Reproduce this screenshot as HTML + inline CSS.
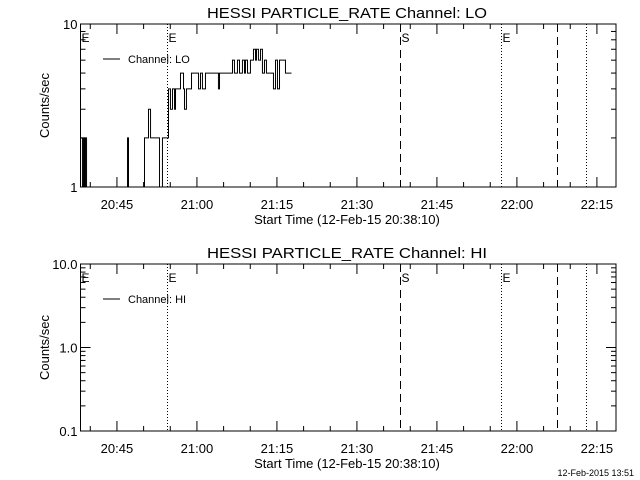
<!DOCTYPE html>
<html><head><meta charset="utf-8"><style>
html,body{margin:0;padding:0;background:#fff;}
svg{display:block;font-family:"Liberation Sans",sans-serif;}
</style></head><body>
<svg id="chart" width="640" height="480" viewBox="0 0 640 480" xmlns="http://www.w3.org/2000/svg">
<rect width="640" height="480" fill="#fff"/>
<g id="root"></g>
<text x="634" y="476" font-size="9" text-anchor="end">12-Feb-2015 13:51</text>
</svg>
<script>
// seconds after 20:38:10
const loTimes = [0,22,34,45,56,68,529,540,720,765,788,889,922,990,1012,1035,1058,1069,1125,1159,1170,1192,1249,1328,1350,1372,1406,1552,1564,1710,1732,1766,1789,1822,1845,1856,1879,1912,1946,1969,1980,2002,2025,2047,2070,2092,2171,2194,2216,2239,2272,2306,2374];
const loCounts = [2,0,2,0,2,0,2,0,2,3,2,0,2,4,3,4,3,4,5,4,3,4,5,4,5,4,5,4,5,6,5,6,5,6,5,6,5,6,7,6,7,6,7,5,6,5,4,6,4,6,6,5,5];
const hiTimes = [];
const hiCounts = [];
const tickLabels = ["20:45","21:00","21:15","21:30","21:45","22:00","22:15"];
const tickSeconds = [410,1310,2210,3110,4010,4910,5810];
const markerSeconds = [970,3590,4730,5360,5690];
const markerStyles = ["dot","dash","dot","dash","dot"];
const markerLabels = ["E","S","E","",""];

const NS="http://www.w3.org/2000/svg";
const root=document.getElementById('root');
const X0=80.5, X1=616, PXS=5.333/60;
function xs(t){return X0+t*PXS;}
function mk(tag,attrs,parent){const e=document.createElementNS(NS,tag);for(const k in attrs)e.setAttribute(k,attrs[k]);(parent||root).appendChild(e);return e;}

function panel(cfg){
  const g=mk('g',{});
  
  
  const top=cfg.top,bot=cfg.bot,lmin=cfg.lmin,lmax=cfg.lmax;
  const ys=v=>bot-(Math.log10(v)-lmin)/(lmax-lmin)*(bot-top);
  const t=mk('text',{x:347,y:top-6,'font-size':15,'text-anchor':'middle',textLength:280,lengthAdjust:'spacingAndGlyphs'},g);
  t.textContent=cfg.title;
  
  
  const fr=mk('rect',{x:X0,y:top,width:X1-X0,height:bot-top,fill:'none',stroke:'#000','stroke-width':1},g);
  
  
  // x ticks every 5 min
  for(let s=110;s<6100;s+=300){
    const x=xs(s); if(x>X1)break;
    const major=((s-410)%900)===0;
    const L=major?10:5;
    mk('line',{x1:x,y1:bot,x2:x,y2:bot-L,stroke:'#000'},g);
    mk('line',{x1:x,y1:top,x2:x,y2:top+L,stroke:'#000'},g);
  }
  tickLabels.forEach((lab,i)=>{
    const tl=mk('text',{x:xs(tickSeconds[i]),y:bot+22,'font-size':13,'text-anchor':'middle'},g);
    tl.textContent=lab;
    
    
  });
  const xl=mk('text',{x:347,y:bot+37,'font-size':13,'text-anchor':'middle'},g);
  xl.textContent='Start Time (12-Feb-15 20:38:10)';
  
  
  // y ticks
  for(let d=lmin;d<lmax;d++){
    for(let m=1;m<=9;m++){
      const y=ys(m*Math.pow(10,d));
      const L=m===1?10:5;
      mk('line',{x1:X0,y1:y,x2:X0+L,y2:y,stroke:'#000'},g);
      mk('line',{x1:X1,y1:y,x2:X1-L,y2:y,stroke:'#000'},g);
    }
  }
  cfg.ylabels.forEach((lab,i)=>{
    const yl=mk('text',{x:X0-3,y:ys(Math.pow(10,lmin+i))+5,'font-size':13,'text-anchor':'end'},g);
    yl.textContent=lab;
    
    
  });
  const ya=mk('text',{x:0,y:0,'font-size':13,'text-anchor':'middle',transform:`translate(49,${(top+bot)/2}) rotate(-90)`},g);
  ya.textContent='Counts/sec';
  
  
  // markers
  markerSeconds.forEach((s,i)=>{
    const x=Math.round(xs(s))+0.5;
    const ln=mk('line',{x1:x,y1:top,x2:x,y2:bot,stroke:'#000','stroke-dasharray':markerStyles[i]==='dot'?'1,2':'8,5'},g);
    
    
    if(markerLabels[i]){
      const ml=mk('text',{x:x+1,y:top+18,'font-size':12},g);
      ml.textContent=markerLabels[i];
      
      
    }
  });
  const el=mk('text',{x:X0+1,y:top+18,'font-size':12},g);
  el.textContent='E';
  
  
  // legend
  mk('line',{x1:103,y1:top+35,x2:120,y2:top+35,stroke:'#000'},g);
  const lg=mk('text',{x:128,y:top+39,'font-size':11},g);
  lg.textContent=cfg.legend;
  
  
  // series
  const cid='clip'+cfg.name;
  const cp=mk('clipPath',{id:cid},g);
  mk('rect',{x:X0,y:top,width:X1-X0,height:bot-top},cp);
  if(cfg.times.length){
    let d='';
    cfg.times.forEach((s,i)=>{
      const v=cfg.counts[i]>0?cfg.counts[i]:Math.pow(10,lmin-0.2);
      const x=xs(s),y=ys(v);
      if(i===0)d+=`M${x},${y}`;else d+=`H${x}V${y}`;
    });
    const p=mk('path',{d:d,fill:'none',stroke:'#000','stroke-width':1,'clip-path':`url(#${cid})`},g);
    
    
  }
}
panel({name:'lo-panel',top:24,bot:187,lmin:0,lmax:1,title:'HESSI PARTICLE_RATE Channel: LO',legend:'Channel: LO',ylabels:['1','10'],times:loTimes,counts:loCounts});
panel({name:'hi-panel',top:264,bot:431,lmin:-1,lmax:1,title:'HESSI PARTICLE_RATE Channel: HI',legend:'Channel: HI',ylabels:['0.1','1.0','10.0'],times:hiTimes,counts:hiCounts});
</script>
</body></html>
